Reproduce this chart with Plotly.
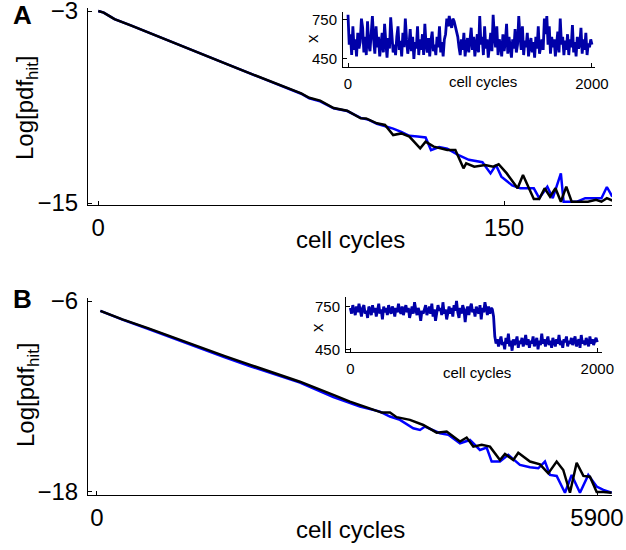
import plotly.graph_objects as go

W, H = 626, 550

# ---------------- Panel A main data ----------------
a_black_x = [0, 2, 4, 6, 12, 18, 24, 30, 36, 42, 48, 54, 60, 66, 72, 75, 78, 82, 87, 92,
             97, 99, 103, 106, 109, 112, 115, 119, 121, 124, 129, 132, 135, 136, 139, 143, 146, 148, 151, 155,
             157, 161, 163, 165, 167, 169, 171, 173, 175, 178, 181, 184, 186, 188, 190]
a_black_y = [-3.0, -3.1, -3.3, -3.5, -3.9, -4.3, -4.72, -5.13, -5.53, -5.95, -6.35, -6.76, -7.17, -7.58, -7.98, -8.15, -8.42, -8.6, -9.06, -9.23,
             -9.7, -9.71, -10.02, -10.12, -10.75, -10.65, -10.85, -11.58, -11.17, -11.48, -11.69, -11.69, -12.83, -12.52, -12.73, -12.63, -12.73, -12.58, -13.15, -14.08,
             -13.25, -14.75, -14.75, -14.08, -14.6, -14.08, -14.92, -13.98, -14.92, -14.92, -14.92, -14.8, -14.92, -14.7, -14.85]

a_blue_x = [0, 2, 4, 6, 12, 18, 24, 30, 36, 42, 48, 54, 60, 66, 72, 75, 78, 82, 87, 92,
            97, 100, 103, 106, 109, 112, 115, 118, 121, 123, 126, 129, 133, 137, 142, 145, 147, 149, 153, 156,
            161, 163, 166, 168, 171, 172, 175, 177, 180, 183, 186, 188, 190]
a_blue_y = [-3.0, -3.1, -3.3, -3.5, -3.9, -4.3, -4.72, -5.13, -5.53, -5.95, -6.35, -6.76, -7.17, -7.6, -8.0, -8.17, -8.45, -8.65, -9.08, -9.25,
            -9.68, -9.8, -10.05, -10.19, -10.35, -10.55, -10.8, -10.85, -10.9, -11.69, -11.5, -11.6, -12.0, -12.3, -12.45, -13.15, -12.63, -13.35, -13.9, -14.08,
            -14.08, -14.7, -13.98, -14.7, -13.15, -14.92, -14.92, -14.92, -14.7, -14.7, -14.7, -14.0, -14.6]

# ---------------- Panel B main data ----------------
b_black_x = [40, 300, 600, 900, 1215, 1500, 1800, 2100, 2395, 2789, 2985, 3182, 3359, 3457, 3536, 3693, 3850, 4008, 4126, 4283,
             4362, 4441, 4539, 4637, 4755, 4814, 4912, 4971, 5109, 5227, 5325, 5424, 5502, 5581, 5660, 5739, 5817, 5896, 5975, 6073]
b_black_y = [-6.62, -7.15, -7.7, -8.3, -8.93, -9.45, -10.0, -10.55, -11.07, -11.9, -12.32, -12.68, -13.01, -13.01, -13.3, -13.47, -13.79, -14.27, -14.2, -14.83,
             -14.58, -15.15, -15.04, -15.15, -15.99, -15.61, -15.99, -15.53, -16.09, -16.26, -16.83, -16.09, -16.62, -18.05, -16.16, -16.99, -17.04, -18.0, -18.0, -18.05]

b_blue_x = [40, 300, 600, 900, 1215, 1500, 1800, 2100, 2395, 2789, 3103, 3339, 3457, 3575, 3732, 3811, 3870, 4047, 4146, 4283,
            4401, 4519, 4598, 4657, 4755, 4853, 4991, 5109, 5207, 5286, 5345, 5424, 5522, 5601, 5699, 5797, 5896, 5975, 6073]
b_blue_y = [-6.62, -7.17, -7.74, -8.35, -8.98, -9.52, -10.08, -10.62, -11.13, -12.04, -12.63, -12.95, -13.26, -13.47, -14.0, -14.1, -13.89, -14.31, -14.41, -14.94,
            -14.73, -15.36, -15.21, -16.09, -16.09, -15.67, -16.3, -16.45, -16.51, -16.09, -16.93, -16.99, -18.05, -16.93, -18.05, -16.93, -17.66, -17.87, -18.05]

# ---------------- Inset series (sampled every 10 cell cycles) ----------------
inset_step = 10
inset_a_vals = [
    790, 560, 640, 480, 700, 520, 600, 470, 650, 530, 580, 760, 690, 500, 620, 480, 740, 560, 510, 640,
    780, 600, 490, 700, 540, 620, 470, 560, 650, 500, 720, 580, 460, 610, 530, 770, 640, 500, 560, 480,
    620, 700, 520, 590, 470, 650, 540, 760, 600, 490, 560, 680, 510, 620, 450, 580, 530, 700, 480, 600,
    520, 640, 480, 720, 560, 500, 610, 470, 590, 660, 510, 560, 480, 620, 540, 700, 500, 580, 470, 600,
    640, 760, 700, 780, 720, 690, 760, 740, 700, 660, 620, 540, 480, 600, 520, 650, 470, 560, 610, 500,
    580, 690, 520, 620, 470, 560, 640, 500, 780, 560, 620, 480, 700, 530, 600, 460, 580, 650, 510, 790,
    620, 540, 700, 480, 600, 560, 470, 640, 510, 580, 720, 490, 620, 540, 460, 600, 530, 680, 500, 560,
    780, 620, 520, 700, 480, 590, 540, 650, 470, 560, 610, 500, 580, 460, 620, 530, 700, 490, 560, 600,
    520, 760, 640, 780, 560, 700, 490, 620, 540, 600, 470, 580, 660, 500, 760, 560, 620, 480, 590, 520,
    640, 480, 600, 540, 710, 500, 580, 470, 620, 530, 560, 690, 490, 600, 520, 650, 480, 570, 540, 600,
    560]
inset_b_vals = [
    740, 700, 760, 720, 690, 750, 710, 770, 730, 680, 740, 760, 700, 720, 670, 750, 730, 690, 760, 710,
    740, 680, 720, 770, 700, 730, 660, 750, 710, 740, 690, 760, 720, 700, 750, 730, 680, 740, 710, 770,
    720, 700, 750, 690, 730, 760, 710, 740, 670, 720, 750, 700, 780, 730, 690, 740, 710, 650, 720, 700,
    740, 760, 690, 720, 750, 700, 770, 680, 730, 650, 710, 760, 720, 740, 690, 780, 700, 730, 660, 720,
    750, 700, 740, 680, 760, 720, 790, 710, 670, 740, 700, 760, 730, 640, 720, 750, 690, 740, 770, 710,
    730, 680, 750, 720, 700, 760, 660, 740, 710, 780, 720, 690, 750, 700, 740, 730, 680, 540, 490, 520,
    470, 510, 540, 480, 500, 450, 530, 490, 560, 470, 510, 440, 520, 480, 500, 540, 460, 510, 490, 530,
    470, 500, 550, 480, 520, 460, 510, 490, 540, 470, 500, 530, 450, 510, 480, 560, 490, 520, 470, 500,
    540, 480, 510, 460, 530, 500, 470, 520, 490, 550, 480, 510, 460, 520, 500, 540, 470, 510, 490, 530,
    480, 510, 540, 470, 500, 520, 460, 550, 490, 510, 480, 530, 500, 470, 540, 490, 520, 480, 510, 530,
    500]
inset_a_x = [i * inset_step for i in range(len(inset_a_vals))]
inset_b_x = [i * inset_step for i in range(len(inset_b_vals))]

# tick labels
a_xticks = [0, 150]
a_yticks = [-3, -15]
b_xticks = [0, 5900]
b_yticks = [-6, -18]
inset_xticks = [0, 2000]
inset_yticks = [450, 750]

FONT = "Liberation Sans, Arial, Helvetica, sans-serif"
BLUE = "#0000ff"
DARKBLUE = "#0000a8"

fig = go.Figure()
fig.add_trace(go.Scatter(x=a_blue_x, y=a_blue_y, mode="lines", line=dict(color=BLUE, width=2.5), xaxis="x", yaxis="y"))
fig.add_trace(go.Scatter(x=a_black_x, y=a_black_y, mode="lines", line=dict(color="black", width=2.5), xaxis="x", yaxis="y"))
fig.add_trace(go.Scatter(x=inset_a_x, y=inset_a_vals, mode="lines", line=dict(color=DARKBLUE, width=2.8), xaxis="x2", yaxis="y2"))
fig.add_trace(go.Scatter(x=b_blue_x, y=b_blue_y, mode="lines", line=dict(color=BLUE, width=2.5), xaxis="x3", yaxis="y3"))
fig.add_trace(go.Scatter(x=b_black_x, y=b_black_y, mode="lines", line=dict(color="black", width=2.5), xaxis="x3", yaxis="y3"))
fig.add_trace(go.Scatter(x=inset_b_x, y=inset_b_vals, mode="lines", line=dict(color=DARKBLUE, width=2.8), xaxis="x4", yaxis="y4"))


def px_x(p):
    return p / W


def px_y(p):
    return 1 - p / H


def axis(domain, rng, ticks, anchor, size, standoff):
    return dict(domain=domain, range=rng, tickvals=ticks, anchor=anchor, automargin=False,
                showgrid=False, zeroline=False, showline=True, linecolor="black", linewidth=1,
                ticks="inside", ticklen=4, tickcolor="black", tickwidth=1,
                tickfont=dict(family=FONT, size=size, color="black"),
                ticklabelstandoff=standoff, ticklabeloverflow="allow", fixedrange=True)


fig.update_layout(
    width=W, height=H, margin=dict(l=0, r=0, t=0, b=0, autoexpand=False),
    paper_bgcolor="white", plot_bgcolor="rgba(0,0,0,0)", showlegend=False,
    font=dict(family=FONT, color="black"),
    xaxis=axis([px_x(88), px_x(612)], [-3.8, 189.9], a_xticks, "y", 24, 1),
    yaxis=axis([px_y(205), px_y(8)], [-15.125, -2.81], a_yticks, "x", 24, 4),
    xaxis2=axis([px_x(343), px_x(595)], [-41, 2025], inset_xticks, "y2", 15, 3),
    yaxis2=axis([px_y(67), px_y(12)], [388, 811], inset_yticks, "x2", 15, 2),
    xaxis3=axis([px_x(88), px_x(612)], [-106, 6077], b_xticks, "y3", 24, 1),
    yaxis3=axis([px_y(495), px_y(298)], [-18.19, -5.81], b_yticks, "x3", 24, 4),
    xaxis4=axis([px_x(346), px_x(602)], [-35, 2038], inset_xticks, "y4", 15, 3),
    yaxis4=axis([px_y(352), px_y(297)], [431, 817], inset_yticks, "x4", 15, 2),
)


def ann(text, x, y, size, angle=0, bold=False):
    fig.add_annotation(text=("<b>%s</b>" % text) if bold else text, x=px_x(x), y=px_y(y),
                       xref="paper", yref="paper", xanchor="center", yanchor="middle",
                       showarrow=False, textangle=angle,
                       font=dict(family=FONT, size=size, color="black"))


ann("A", 22, 15, 26, bold=True)
ann("B", 22, 299, 26, bold=True)
ann("Log[pdf<sub>hit</sub>]", 27, 108, 24, angle=-90)
ann("Log[pdf<sub>hit</sub>]", 27, 395, 24, angle=-90)
ann("cell cycles", 350, 240, 24)
ann("cell cycles", 350, 529, 24)
ann("cell cycles", 483, 82, 15)
ann("cell cycles", 477, 372, 15)
ann("x", 312, 39, 17, angle=-90)
ann("x", 317, 328, 17, angle=-90)

fig.write_html("out.html", config={"displayModeBar": False},
               post_script="document.body.style.margin='0';")
